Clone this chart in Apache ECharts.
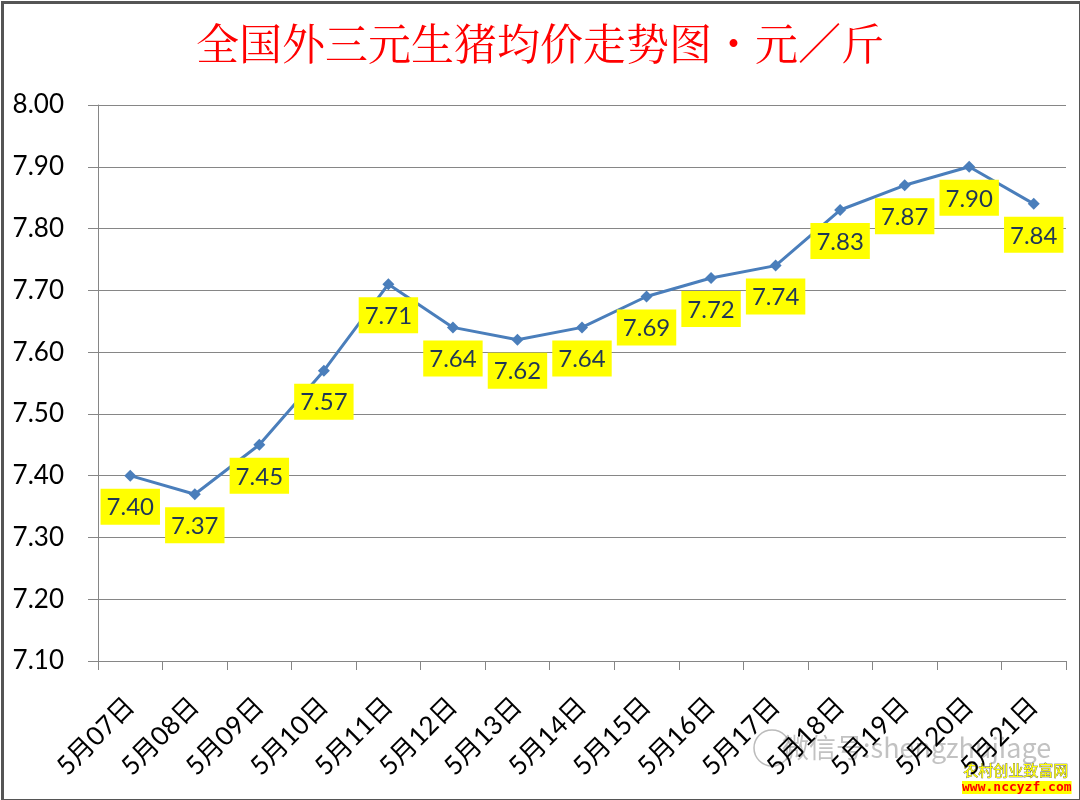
<!DOCTYPE html>
<html><head><meta charset="utf-8">
<script src="https://cdn.jsdelivr.net/npm/echarts@6/dist/echarts.min.js"></script>
<style>html,body{margin:0;padding:0;background:#fff}#c{width:1080px;height:800px}</style>
</head><body><div id="c"></div>
<script>
const categories = ['5月07日','5月08日','5月09日','5月10日','5月11日','5月12日','5月13日','5月14日','5月15日','5月16日','5月17日','5月18日','5月19日','5月20日','5月21日'];
const prices = [7.40,7.37,7.45,7.57,7.71,7.64,7.62,7.64,7.69,7.72,7.74,7.83,7.87,7.90,7.84];
const yTicks = {min:7.1, max:8.0, interval:0.1};
const titleText = '全国外三元生猪均价走势图・元／斤';

const chart = echarts.init(document.getElementById('c'));
const numFont = 'Lato, "Noto Sans CJK SC", sans-serif';
chart.setOption({
  animation:false,
  backgroundColor:'#fff',
  title:{text:titleText,left:'center',top:17,
    textStyle:{color:'#ff0000',fontSize:43,fontWeight:'normal',fontFamily:'"Noto Serif CJK SC","Noto Sans CJK SC",serif'}},
  grid:{left:98,right:14,top:105,bottom:139,containLabel:false},
  xAxis:{type:'category',data:categories,boundaryGap:true,
    axisLine:{lineStyle:{color:'#868686',width:1}},
    axisTick:{show:true,length:9,alignWithLabel:false,lineStyle:{color:'#868686'}},
    axisLabel:{rotate:45,fontSize:26,color:'#000',margin:41,fontFamily:numFont,interval:0}},
  yAxis:{type:'value',min:yTicks.min,max:yTicks.max,interval:yTicks.interval,
    axisLine:{show:true,lineStyle:{color:'#868686'}},
    axisTick:{show:true,length:10,lineStyle:{color:'#868686'}},
    splitLine:{lineStyle:{color:'#868686',width:1}},
    axisLabel:{fontSize:26,color:'#000',margin:34,fontFamily:numFont,formatter:v=>v.toFixed(2)}},
  series:[{type:'line',data:prices,symbol:'diamond',symbolSize:12,
    lineStyle:{color:'#4a7ebb',width:3},itemStyle:{color:'#4a7ebb'},
    label:{show:true,position:'bottom',distance:7,formatter:p=>p.value.toFixed(2),
      backgroundColor:'#ffff00',padding:[7,6,5,6],fontSize:24,color:'#1f3656',fontFamily:numFont}}],
  graphic:[
    {type:'rect',left:0,top:0,shape:{width:1078,height:798},style:{fill:'none',stroke:'#555',lineWidth:3},silent:true},
    {type:'circle',shape:{cx:772,cy:748,r:18},style:{fill:'rgba(255,255,255,0.5)',stroke:'rgba(120,120,120,0.5)',lineWidth:1.5},silent:true},
    {type:'text',left:782,top:734,style:{text:'微信号:shengzhujiage',fontSize:27,fill:'rgba(120,120,120,0.45)',fontFamily:'"Noto Sans CJK SC",sans-serif'}},
    {type:'text',left:963,top:762,style:{text:'农村创业致富网',fontSize:15,fill:'#ffff00',stroke:'#444',lineWidth:0.6,fontFamily:'"Noto Sans CJK SC",sans-serif'}},
    {type:'text',left:962,top:781,style:{text:'www.nccyzf.com',fontSize:13,fontWeight:'bold',fill:'#ff0000',fontFamily:'"DejaVu Sans Mono",monospace',backgroundColor:'#ffff00'}}
  ]
});
</script></body></html>
